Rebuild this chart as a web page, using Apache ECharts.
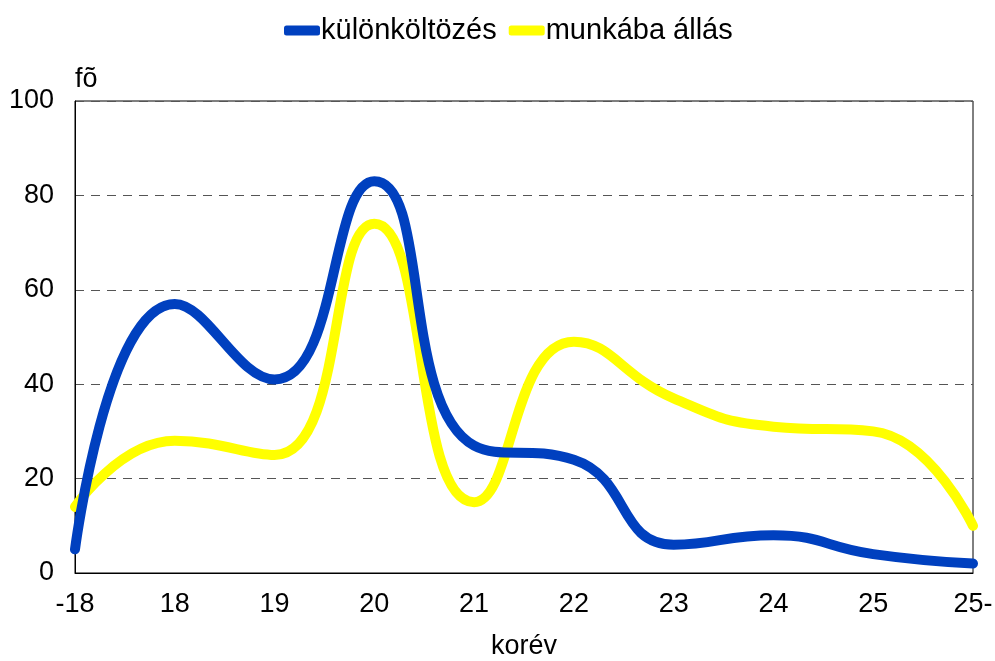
<!DOCTYPE html>
<html>
<head>
<meta charset="utf-8">
<script src="https://cdn.jsdelivr.net/npm/echarts@6/dist/echarts.min.js"></script>
<style>
html,body{margin:0;padding:0;background:#fff}
#divChart{width:995px;height:661px}
</style>
</head>
<body>
<div id="divChart"></div>
<script>
// korév kategóriák
var categories = ['-18','18','19','20','21','22','23','24','25','25-']
var kulonkoltozes = [5, 57, 41, 83, 27, 24, 6, 8, 4, 2]
var munkaba_allas = [14, 28, 25, 74, 15, 49, 37, 31, 30, 10]
var yTicks = [0, 20, 40, 60, 80, 100]

var fnt = 'Liberation Sans, Arial, sans-serif'

var chart = echarts.init(document.getElementById('divChart'))
chart.setOption({
  animation:false,
  color:['#0040BF','#FFFF00'],
  legend:{
    top:11, left:279,
    itemWidth:36, itemHeight:10, itemGap:12,
    icon:'roundRect',
    textStyle:{fontFamily:fnt, fontSize:29, color:'#000', padding:[0,0,0,-4]},
    data:['különköltözés','munkába állás']
  },
  grid:{left:75, right:22, top:101, bottom:88, outerBoundsMode:'none', containLabel:false,
        show:true, borderColor:'#000', borderWidth:1, backgroundColor:'transparent'},
  xAxis:{
    type:'category', data:categories, boundaryGap:false,
    name:'korév', nameLocation:'middle', nameGap:60,
    nameTextStyle:{fontFamily:fnt, fontSize:27, color:'#000'},
    axisLine:{lineStyle:{color:'#000', width:1}},
    axisTick:{show:false},
    axisLabel:{fontFamily:fnt, fontSize:27, color:'#000', margin:18},
    splitLine:{show:false}
  },
  yAxis:{
    type:'value', min:yTicks[0], max:yTicks[yTicks.length-1], interval:20,
    name:'fõ', nameLocation:'end', nameGap:8,
    nameTextStyle:{fontFamily:fnt, fontSize:27, color:'#000', align:'left'},
    axisLine:{show:true, lineStyle:{color:'#000', width:1}},
    axisTick:{show:false},
    axisLabel:{fontFamily:fnt, fontSize:27, color:'#000', margin:21},
    splitLine:{show:true, lineStyle:{color:'#555', type:[9,7], width:1}}
  },
  series:[
    {name:'különköltözés', type:'line', data:kulonkoltozes, smooth:0.5, showSymbol:false,
     lineStyle:{width:10, cap:'round', join:'round'}},
    {name:'munkába állás', type:'line', data:munkaba_allas, smooth:0.5, showSymbol:false, z:1,
     lineStyle:{width:10, cap:'round', join:'round'}}
  ]
})
</script>
</body>
</html>
